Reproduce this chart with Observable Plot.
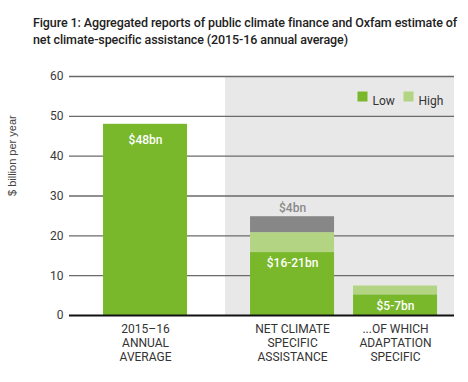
<!DOCTYPE html>
<html>
<head>
<meta charset="utf-8">
<script src="https://cdn.jsdelivr.net/npm/d3@7"></script>
<script src="https://cdn.jsdelivr.net/npm/@observablehq/plot@0.6"></script>
<style>
  html, body { margin: 0; padding: 0; background: #fff; }
  #title { box-sizing: border-box; height: 60px; padding: 14px 0 0 33px; font-family: Roboto, sans-serif; font-weight: 500; font-size: 12.5px; line-height: 17px; color: #222; letter-spacing: -0.1px; }
  svg { display: block; }
</style>
</head>
<body>
<div id="title">Figure 1: Aggregated reports of public climate finance and Oxfam estimate of<br>net climate-specific assistance (2015-16 annual average)</div>
<div id="chart"></div>
<script>
// ---- data ----
const categories = ["2015–16\nANNUAL\nAVERAGE", "NET CLIMATE\nSPECIFIC\nASSISTANCE", "...OF WHICH\nADAPTATION\nSPECIFIC"];
const lowValues = [48, 15.8, 5.2];
const highValues = [null, 20.8, 7.4];
const grossValues = [null, 24.8, null];
const barLabels = ["$48bn", "$16-21bn", "$5-7bn"];
const grossLabels = [null, "$4bn", null];
const yTicks = [0, 10, 20, 30, 40, 50, 60];
const legendItems = ["Low", "High"];

// ---- layout (x in bar-width units) ----
const xMax = 4.583;
const barLeft = [0.405, 2.155, 3.381];
const shadeStart = 1.857;
const colors = {Low: "#79b82b", High: "#b3d583", Gross: "#878787"};

const rows = categories.map((c, i) => ({
  cat: c, i, x1: barLeft[i], x2: barLeft[i] + 1, xc: barLeft[i] + 0.5,
  low: lowValues[i], high: highValues[i], gross: grossValues[i],
  label: barLabels[i], grossLabel: grossLabels[i]
}));
const segs = [];
for (const r of rows) {
  segs.push({x1: r.x1, x2: r.x2, y1: 0, y2: r.low, k: "Low"});
  if (r.high != null) segs.push({x1: r.x1, x2: r.x2, y1: r.low, y2: r.high, k: "High"});
  if (r.gross != null) segs.push({x1: r.x1, x2: r.x2, y1: r.high, y2: r.gross, k: "Gross"});
}

const font = "Roboto, sans-serif";
const legendMarks = [];
legendItems.forEach((k, i) => {
  const off = -92 + i * 46;
  legendMarks.push(Plot.dot([k], {frameAnchor: "top-right", symbol: "square", r: 5.64, fill: colors[k], dx: off, dy: 20}));
  legendMarks.push(Plot.text([k], {frameAnchor: "top-right", text: d => d, textAnchor: "start", fill: "#333", fontSize: 12, dx: off + 10, dy: 20}));
});

const chart = Plot.plot({
  width: 468,
  height: 322,
  marginTop: 16,
  marginBottom: 67,
  marginLeft: 69,
  marginRight: 14,
  style: {fontFamily: font, fontSize: "12px", color: "#333", background: "transparent"},
  x: {domain: [0, xMax], axis: null},
  y: {domain: [0, 60], ticks: yTicks, label: null},
  marks: [
    Plot.rect([{}], {x1: shadeStart, x2: xMax, y1: 0, y2: 60, fill: "#e8e8e8"}),
    Plot.ruleY(yTicks.filter(d => d > 0), {stroke: "#6a6a6a", strokeWidth: 1.4}),
    Plot.axisY({ticks: yTicks, tickSize: 0, tickPadding: 6, fontSize: 12, fill: "#3a3a3a", label: null}),
    Plot.text(["$ billion per year"], {frameAnchor: "left", rotate: -90, dx: -57, fontSize: 11, fill: "#444", fontFamily: "Liberation Sans, sans-serif"}),
    Plot.rect(segs, {x1: "x1", x2: "x2", y1: "y1", y2: "y2", fill: d => colors[d.k]}),
    Plot.ruleY([0], {stroke: "#111", strokeWidth: 2}),
    Plot.text(rows.slice(0, 1), {x: "xc", y: "low", text: "label", fill: "white", fontSize: 12, fontWeight: 500, dy: 16}),
    Plot.text(rows.slice(1), {x: "xc", y: "low", text: "label", fill: "white", fontSize: 12, fontWeight: 500, dy: 11}),
    Plot.text(rows.filter(r => r.grossLabel), {x: "xc", y: "gross", text: "grossLabel", fill: "#8a8a8a", fontSize: 12, fontWeight: 500, dy: -9}),
    Plot.text(rows, {x: "xc", y: 0, text: "cat", fill: "#333", fontSize: 12, lineAnchor: "top", dy: 8, lineHeight: 1.15}),
    ...legendMarks
  ]
});
document.getElementById("chart").append(chart);
</script>
</body>
</html>
